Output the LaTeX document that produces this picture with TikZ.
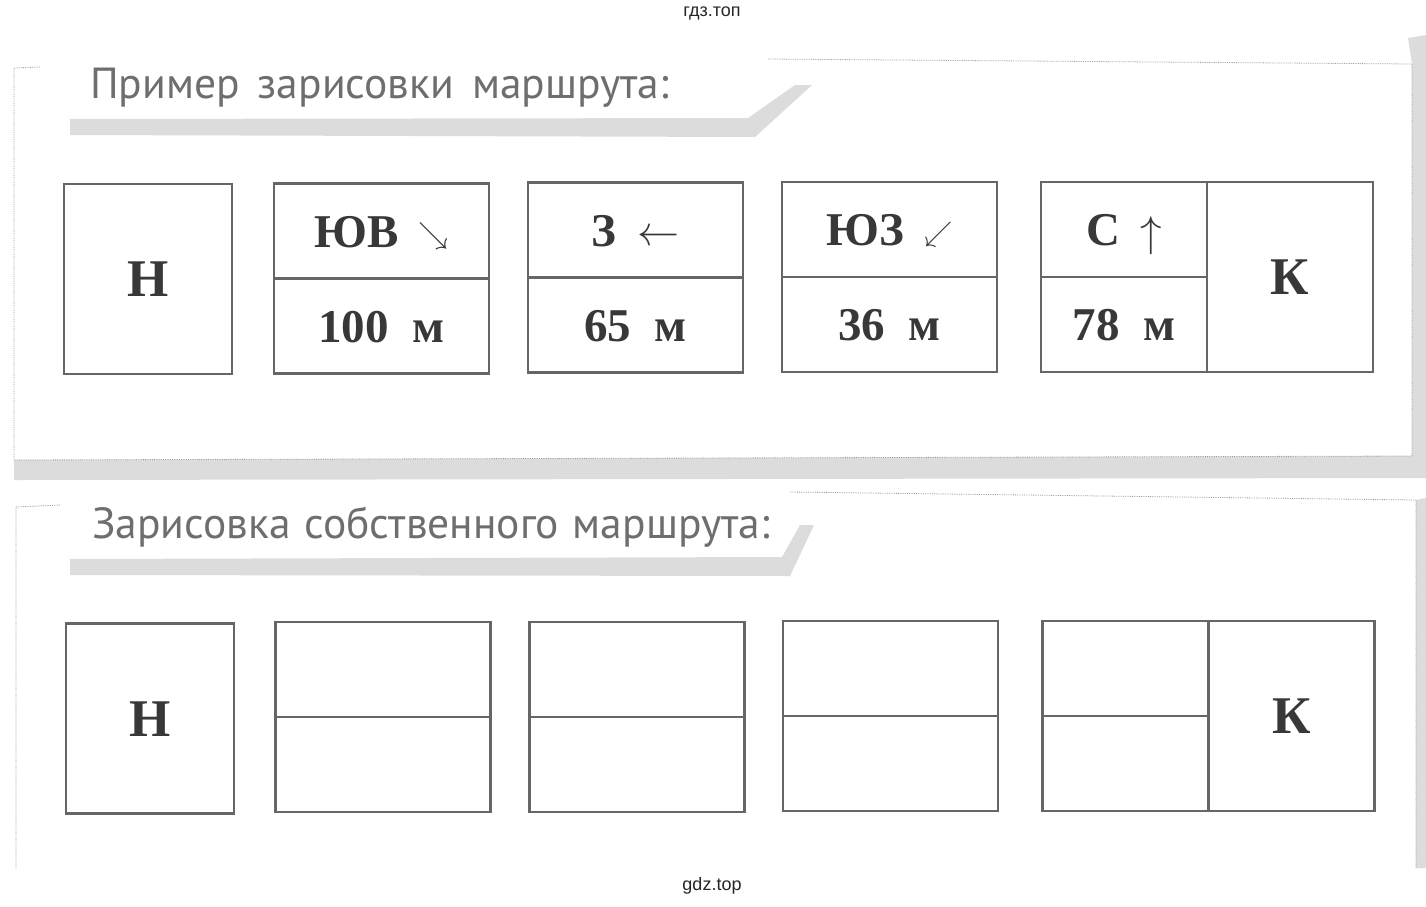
\RequirePackage{fix-cm}
\documentclass[tikz,border=0pt]{standalone}
\usepackage{fontspec}
\setmainfont{Liberation Serif}
\newfontfamily\headfont{PT Sans}
\newfontfamily\markfont{Liberation Sans}
\usetikzlibrary{positioning}
\definecolor{boxgray}{HTML}{666666}
\definecolor{inkgray}{HTML}{383838}
\definecolor{headgray}{HTML}{6E6E6E}
\definecolor{shadegray}{HTML}{DCDCDC}
\definecolor{edgegray}{HTML}{9A9A9A}
\newcommand{\arr}[3]{\raisebox{#2}{\fontsize{#1}{#1}\selectfont$#3$}}

\begin{document}
\begin{tikzpicture}[x=1pt, y=-1pt,
    cell/.style = {draw=boxgray, line width=2.8pt, inner sep=0pt, outer sep=0pt, text=inkgray, font=\fontsize{47}{47}\selectfont\bfseries, text height=32pt, text depth=-6pt, minimum width=215pt, minimum height=95pt},
    halfcell/.style = {cell, minimum width=166pt},
    endbox/.style = {cell, minimum width=168pt, minimum height=190pt, font=\fontsize{53}{53}\selectfont\bfseries, text height=35pt, text depth=-3pt},
    finbox/.style = {endbox, minimum width=166pt, anchor=north west},
    title/.style = {anchor=base west, inner sep=0pt, text=headgray, font=\headfont\fontsize{43.5}{43.5}\selectfont},
    wmark/.style = {inner sep=0pt, text=black!85, font=\markfont\fontsize{18}{18}\selectfont},
    edge/.style = {draw=edgegray, line width=0.8pt, densely dotted},
    shade/.style = {fill=shadegray, draw=none}]
    \useasboundingbox[fill=white] (0,0) rectangle (1426,906);

    \fill[shade] (14,460) -- (1412,456) -- (1426,452) -- (1426,478) -- (14,480) -- cycle;
    \fill[shade] (1408,38) -- (1426,35) -- (1426,456) -- (1412,456) -- (1412,64) -- cycle;
    \fill[shade] (70,119) -- (748,118) -- (795,85) -- (812,85) -- (755,137) -- (70,135) -- cycle;
    \draw[edge] (40,67) -- (14,68) -- (14,460) -- (1412,456) -- (1412,64) -- (768,59);

    \fill[shade] (1416,500) -- (1426,498) -- (1426,868) -- (1416,868) -- cycle;
    \fill[shade] (70,559) -- (782,557) -- (800,525) -- (814,525) -- (790,576) -- (70,575) -- cycle;
    \draw[edge] (60,505) -- (16,507) -- (16,868);
    \draw[edge] (790,492) -- (1416,500) -- (1416,868);

    \node[title] (t1) at (90,98) {Пример\hspace{18pt}зарисовки\hspace{18pt}маршрута:};
    \node[title] (t2) at (92,538) {Зарисовка\hspace{14pt}собственного\hspace{14pt}маршрута:};

    \node[endbox] (n1) at (148,279) {Н};
    \node[cell] (a1) at (381.5,231) {ЮВ\hspace{20pt}\arr{30}{4pt}{\searrow}};
    \node[cell] (a2) [below=0pt of a1] {100\hspace{24pt}м};
    \node[cell] (b1) at (635.5,230) {З\hspace{22pt}\arr{42}{1pt}{\leftarrow}};
    \node[cell] (b2) [below=0pt of b1] {65\hspace{24pt}м};
    \node[cell] (c1) at (889.5,229.5) {ЮЗ\hspace{20pt}\arr{28}{4pt}{\swarrow}};
    \node[cell] (c2) [below=0pt of c1] {36\hspace{24pt}м};
    \node[halfcell] (d1) at (1124,229.5) {С\hspace{20pt}\arr{43}{-1pt}{\uparrow}};
    \node[halfcell] (d2) [below=0pt of d1] {78\hspace{24pt}м};
    \node[finbox] (k1) at (d1.north east) {К};

    \node[endbox] (n2) at (150,718.5) {Н};
    \node[cell] (e1) at (383,669.5) {};
    \node[cell] (e2) [below=0pt of e1] {};
    \node[cell] (f1) at (637,669.5) {};
    \node[cell] (f2) [below=0pt of f1] {};
    \node[cell] (g1) at (890.5,668.5) {};
    \node[cell] (g2) [below=0pt of g1] {};
    \node[halfcell] (h1) at (1125.5,668.5) {};
    \node[halfcell] (h2) [below=0pt of h1] {};
    \node[finbox] (k2) at (h1.north east) {К};

    \node[wmark] (w1) at (712,13) {гдз.топ};
    \node[wmark] (w2) at (712,886) {gdz.top};
\end{tikzpicture}
\end{document}
